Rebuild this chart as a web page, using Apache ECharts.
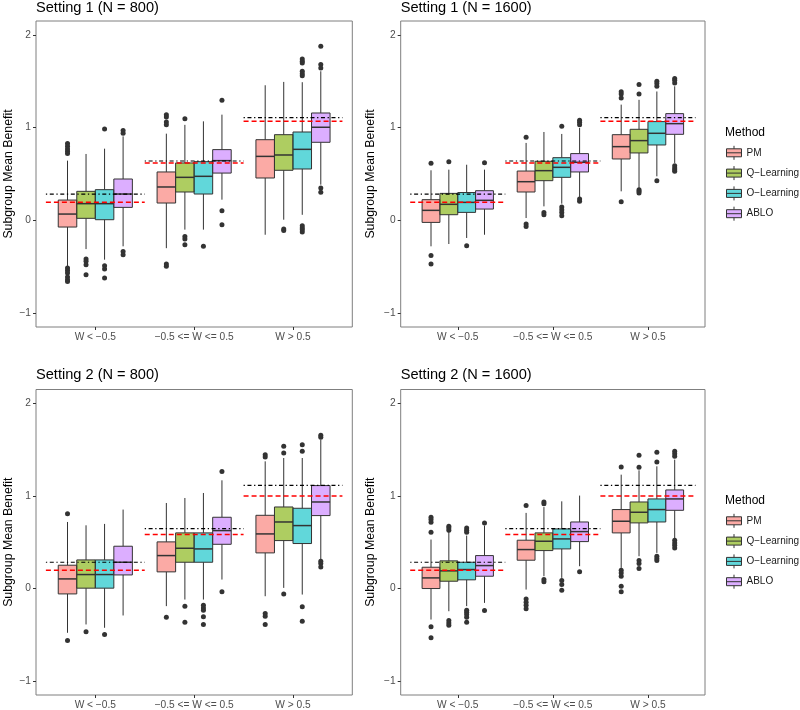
<!DOCTYPE html>
<html><head><meta charset="utf-8">
<script src="https://cdn.jsdelivr.net/npm/echarts@6/dist/echarts.min.js"></script>
<style>html,body{margin:0;padding:0;background:#fff}#c{width:800px;height:710px}</style>
</head><body><div id="c"></div>
<script>
// ---------------- data ----------------
const categories = ['W < \u22120.5', '\u22120.5 <= W <= 0.5', 'W > 0.5'];
const methods = ['PM', 'Q\u2212Learning', 'O\u2212Learning', 'ABLO'];
const panelTitles = ['Setting 1 (N = 800)', 'Setting 1 (N = 1600)', 'Setting 2 (N = 800)', 'Setting 2 (N = 1600)'];
const yTicks = [-1, 0, 1, 2];

// box stats: [method][group] = [lower whisker, Q1, median, Q3, upper whisker]
const box_s1_800 = [
  [[-0.496, -0.072, 0.068, 0.219, 0.644], [-0.30, 0.187, 0.36, 0.522, 0.935], [-0.155, 0.457, 0.69, 0.87, 1.457]],
  [[-0.31, 0.022, 0.18, 0.313, 0.716], [-0.10, 0.306, 0.464, 0.619, 1.03], [0.007, 0.54, 0.705, 0.924, 1.493]],
  [[-0.424, 0.007, 0.18, 0.331, 0.773], [-0.10, 0.284, 0.475, 0.633, 1.068], [0.06, 0.554, 0.766, 0.953, 1.49]],
  [[-0.28, 0.14, 0.284, 0.446, 0.906], [0.223, 0.51, 0.644, 0.763, 1.14], [0.385, 0.842, 1.004, 1.158, 1.608]]
];
const box_s1_1600 = [
  [[-0.28, -0.022, 0.108, 0.223, 0.54], [0.025, 0.306, 0.417, 0.532, 0.835], [0.313, 0.662, 0.795, 0.924, 1.248]],
  [[-0.255, 0.061, 0.173, 0.291, 0.547], [0.151, 0.428, 0.536, 0.637, 0.953], [0.35, 0.727, 0.86, 0.982, 1.3]],
  [[-0.19, 0.086, 0.194, 0.3, 0.6], [0.18, 0.464, 0.572, 0.676, 0.932], [0.475, 0.813, 0.939, 1.065, 1.39]],
  [[-0.155, 0.122, 0.216, 0.32, 0.547], [0.241, 0.522, 0.626, 0.72, 0.996], [0.619, 0.928, 1.043, 1.151, 1.446]]
];
const box_s2_800 = [
  [[-0.478, -0.058, 0.104, 0.252, 0.719], [-0.19, 0.18, 0.356, 0.504, 0.924], [-0.083, 0.385, 0.59, 0.791, 1.374]],
  [[-0.388, 0.004, 0.151, 0.309, 0.683], [-0.119, 0.284, 0.435, 0.601, 0.978], [0.007, 0.518, 0.719, 0.881, 1.41]],
  [[-0.424, 0.004, 0.151, 0.309, 0.698], [-0.119, 0.284, 0.428, 0.601, 1.032], [-0.065, 0.486, 0.68, 0.867, 1.41]],
  [[-0.291, 0.147, 0.284, 0.457, 0.853], [0.097, 0.478, 0.626, 0.77, 1.169], [0.313, 0.788, 0.935, 1.112, 1.608]]
];
const box_s2_1600 = [
  [[-0.335, 0.0, 0.115, 0.23, 0.529], [-0.011, 0.306, 0.421, 0.522, 0.817], [0.223, 0.601, 0.727, 0.853, 1.23]],
  [[-0.245, 0.079, 0.191, 0.299, 0.619], [0.133, 0.41, 0.511, 0.601, 0.88], [0.349, 0.709, 0.824, 0.935, 1.277]],
  [[-0.19, 0.094, 0.205, 0.284, 0.572], [0.115, 0.428, 0.536, 0.644, 0.942], [0.385, 0.719, 0.853, 0.968, 1.32]],
  [[-0.155, 0.133, 0.248, 0.356, 0.68], [0.241, 0.507, 0.615, 0.719, 1.004], [0.536, 0.845, 0.968, 1.065, 1.392]]
];

// outliers: [method][group] = list of values
const out_s1_800 = [
  [[0.83, 0.80, 0.77, 0.745, 0.72, -0.514, -0.54, -0.568, -0.61, -0.64, -0.658], [1.14, 1.115, 1.06, 1.03, -0.47, -0.496], []],
  [[-0.417, -0.442, -0.478, -0.586], [1.097, -0.173, -0.2, -0.263], [-0.094, -0.108]],
  [[0.986, -0.49, -0.525, -0.622], [-0.28], [1.74, 1.716, 1.698, 1.608, 1.58, 1.56, -0.058, -0.083, -0.1, -0.126]],
  [[0.97, 0.94, -0.335, -0.37], [1.295, 0.104, -0.047], [1.878, 1.68, 1.644, 0.35, 0.302]]
];
const out_s1_1600 = [
  [[0.615, -0.38, -0.47], [0.896, -0.04, -0.065], [1.388, 1.363, 1.32, 0.2]],
  [[0.633], [0.086, 0.061], [1.464, 1.363, 0.33, 0.313, 0.295]],
  [[-0.273], [1.014, 0.144, 0.115, 0.086, 0.05], [1.5, 1.475, 1.446, 0.428]],
  [[0.622], [1.079, 1.058, 1.032, 0.23, 0.205], [1.529, 1.511, 1.482, 0.59, 0.565, 0.547, 0.529]]
];
const out_s2_800 = [
  [[0.809, -0.561], [-0.309], [1.446, 1.421, -0.27, -0.3, -0.388]],
  [[-0.468], [-0.19, -0.363], [1.536, 1.464, -0.058]],
  [[-0.496], [-0.18, -0.209, -0.234, -0.306, -0.388], [1.554, 1.482, -0.198, -0.353]],
  [[], [1.263, -0.036], [1.655, 1.633, 0.295, 0.27, 0.234]]
];
const out_s2_1600 = [
  [[0.77, 0.745, 0.716, 0.608, -0.414, -0.532], [0.896, -0.112, -0.147, -0.18, -0.219], [1.313, 0.198, 0.169, 0.133, 0.025, -0.036]],
  [[0.673, 0.655, 0.63, -0.345, -0.371, -0.396], [0.935, 0.917, 0.097, 0.072], [1.439, 1.309, 0.302, 0.27, 0.216]],
  [[0.655, 0.63, 0.608, -0.234, -0.255, -0.28, -0.309, -0.363], [0.086, 0.043, -0.018], [1.471, 1.367, 0.349, 0.324, 0.302]],
  [[0.709, -0.237], [0.18], [1.482, 1.457, 1.428, 0.522, 0.493, 0.468, 0.439]]
];

// reference lines per group: black dot-dash (optimal) and red dashed
const opt_s1 = [0.284, 0.64, 1.108];
const red_s1 = [0.194, 0.619, 1.068];
const opt_s2 = [0.284, 0.647, 1.115];
const red_s2 = [0.198, 0.583, 1.0];

// ---------------- chart ----------------
const panels = [
  { box: box_s1_800, out: out_s1_800, opt: opt_s1, red: red_s1 },
  { box: box_s1_1600, out: out_s1_1600, opt: opt_s1, red: red_s1 },
  { box: box_s2_800, out: out_s2_800, opt: opt_s2, red: red_s2 },
  { box: box_s2_1600, out: out_s2_1600, opt: opt_s2, red: red_s2 }
];
const FONT = '"Liberation Sans", Arial, Helvetica, sans-serif';
const FILLS = ['rgba(248,118,109,0.62)', 'rgba(124,174,0,0.62)', 'rgba(0,191,196,0.62)', 'rgba(199,124,255,0.62)'];
const DODGE = [-0.28125, -0.09375, 0.09375, 0.28125];
const BOXW = 0.1875;
const gridPos = [
  { left: 36, top: 21, width: 316.3, height: 306 },
  { left: 400.7, top: 21, width: 304.3, height: 306 },
  { left: 36, top: 389.5, width: 316.3, height: 306 },
  { left: 400.7, top: 389.5, width: 304.3, height: 306 }
];
const nameGaps = [21, 24, 21, 24];

function boxRenderer(mi) {
  return function (params, api) {
    const g = api.value(0);
    const xc = g + DODGE[mi];
    const lo = api.value(1), q1 = api.value(2), md = api.value(3), q3 = api.value(4), hi = api.value(5);
    const tl = api.coord([xc - BOXW / 2, q3]);
    const br = api.coord([xc + BOXW / 2, q1]);
    const pHi = api.coord([xc, hi]);
    const pLo = api.coord([xc, lo]);
    const pMd = api.coord([xc, md]);
    return {
      type: 'group',
      children: [
        { type: 'line', shape: { x1: pHi[0], y1: pHi[1], x2: pHi[0], y2: tl[1] }, style: { stroke: '#333', lineWidth: 1 } },
        { type: 'line', shape: { x1: pLo[0], y1: br[1], x2: pLo[0], y2: pLo[1] }, style: { stroke: '#333', lineWidth: 1 } },
        { type: 'rect', shape: { x: tl[0], y: tl[1], width: br[0] - tl[0], height: br[1] - tl[1] }, style: { fill: FILLS[mi], stroke: '#333', lineWidth: 1 } },
        { type: 'line', shape: { x1: tl[0], y1: pMd[1], x2: br[0], y2: pMd[1] }, style: { stroke: '#333', lineWidth: 1.5 } }
      ]
    };
  };
}
function refRenderer(color, dash, width) {
  return function (params, api) {
    const g = api.value(0), v = api.value(1);
    const a = api.coord([g - 0.5, v]);
    const b = api.coord([g + 0.5, v]);
    return { type: 'line', shape: { x1: a[0], y1: a[1], x2: b[0], y2: b[1] }, style: { stroke: color, lineWidth: width, lineDash: dash } };
  };
}

const grid = [], xAxis = [], yAxis = [], series = [], title = [];
panels.forEach((p, pi) => {
  grid.push(Object.assign({ show: true, borderColor: '#7f7f7f', borderWidth: 1, backgroundColor: '#fff' }, gridPos[pi]));
  xAxis.push({
    type: 'value', gridIndex: pi, min: 0.4, max: 3.6,
    axisLine: { show: false, onZero: false },
    splitLine: { show: false },
    axisTick: { show: true, customValues: [1, 2, 3], length: 3, lineStyle: { color: '#333', width: 1 } },
    axisLabel: { customValues: [1, 2, 3], formatter: v => categories[Math.round(v) - 1], margin: 5, fontSize: 10.2, color: '#4d4d4d', fontFamily: FONT }
  });
  yAxis.push({
    type: 'value', gridIndex: pi, min: -1.15, max: 2.15,
    axisLine: { show: false, onZero: false },
    splitLine: { show: false },
    axisTick: { show: true, customValues: yTicks, length: 3, lineStyle: { color: '#333', width: 1 } },
    axisLabel: { customValues: yTicks, formatter: v => (v < 0 ? '\u2212' + Math.abs(v) : String(v)), margin: 5, fontSize: 10.2, color: '#4d4d4d', fontFamily: FONT },
    name: 'Subgroup Mean Benefit', nameLocation: 'middle', nameGap: nameGaps[pi], nameRotate: 90,
    nameTextStyle: { fontSize: 12.3, color: '#000', fontFamily: FONT }
  });
  title.push({
    text: panelTitles[pi], left: gridPos[pi].left, top: pi < 2 ? 0 : 367.6, padding: 0,
    textStyle: { fontSize: 14.6, fontWeight: 'normal', color: '#000', fontFamily: FONT }
  });
  methods.forEach((m, mi) => {
    series.push({
      type: 'custom', name: m, xAxisIndex: pi, yAxisIndex: pi, z: 2,
      itemStyle: { color: FILLS[mi], borderColor: '#333', borderWidth: 1 },
      renderItem: boxRenderer(mi),
      encode: { x: 0, y: [1, 2, 3, 4, 5] },
      data: p.box[mi].map((s, gi) => [gi + 1].concat(s)),
      silent: true
    });
  });
  const pts = [];
  methods.forEach((m, mi) => {
    p.out[mi].forEach((vals, gi) => vals.forEach(v => pts.push([gi + 1 + DODGE[mi], v])));
  });
  series.push({
    type: 'scatter', name: 'outliers', xAxisIndex: pi, yAxisIndex: pi, z: 3, silent: true,
    symbol: 'circle', symbolSize: 5, itemStyle: { color: '#333', opacity: 1 }, data: pts
  });
  series.push({
    type: 'custom', name: 'red', xAxisIndex: pi, yAxisIndex: pi, z: 4, silent: true,
    renderItem: refRenderer('#ff0000', [5, 3], 1.5), encode: { x: 0, y: 1 },
    data: p.red.map((v, gi) => [gi + 1, v])
  });
  series.push({
    type: 'custom', name: 'opt', xAxisIndex: pi, yAxisIndex: pi, z: 5, silent: true,
    renderItem: refRenderer('#000000', [1.3, 2.6, 4, 2.6], 1.2), encode: { x: 0, y: 1 },
    data: p.opt.map((v, gi) => [gi + 1, v])
  });
});

// legend titles
title.push({ text: 'Method', left: 725, top: 127, padding: 0, textStyle: { fontSize: 12, fontWeight: 'normal', color: '#000', fontFamily: FONT } });
title.push({ text: 'Method', left: 725, top: 495, padding: 0, textStyle: { fontSize: 12, fontWeight: 'normal', color: '#000', fontFamily: FONT } });

const ICON = 'path://M0,3 L15,3 L15,11 L0,11 Z M0,7 L15,7 M7.5,0 L7.5,3 M7.5,11 L7.5,14';
function makeLegend(top) {
  return {
    orient: 'vertical', left: 726, top: top, padding: 0,
    itemWidth: 15, itemHeight: 14, itemGap: 5.3, selectedMode: false,
    icon: ICON,
    itemStyle: { borderColor: '#333', borderWidth: 1 },
    textStyle: { fontSize: 10, color: '#1a1a1a', fontFamily: FONT },
    data: methods.map((m, mi) => ({ name: m, itemStyle: { color: FILLS[mi], borderColor: '#333', borderWidth: 1 } }))
  };
}

const chart = echarts.init(document.getElementById('c'), null, { renderer: 'canvas' });
chart.setOption({
  animation: false,
  backgroundColor: '#fff',
  title: title,
  legend: [makeLegend(145.3), makeLegend(513.3)],
  grid: grid,
  xAxis: xAxis,
  yAxis: yAxis,
  series: series
});
</script>
</body></html>
